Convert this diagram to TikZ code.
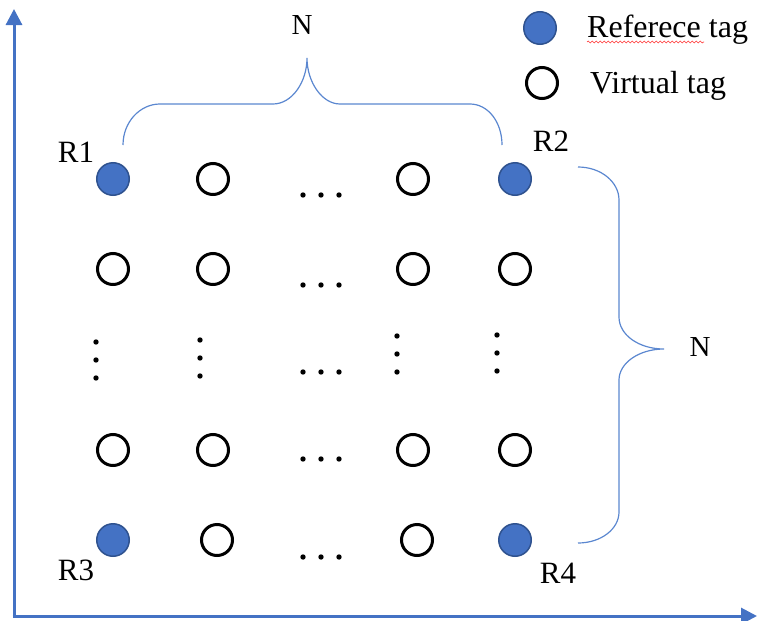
\documentclass[tikz,border=0pt]{standalone}
\usepackage{fontspec}
\setmainfont{Liberation Serif}
\usetikzlibrary{arrows.meta,decorations.pathmorphing}
\definecolor{axisblue}{HTML}{4472C4}
\definecolor{refborder}{HTML}{2F528F}
\definecolor{bracecol}{HTML}{5B87D0}
\begin{document}
\begin{tikzpicture}[x=1pt,y=-1pt,
  reftag/.style={circle,draw=refborder,line width=1.5pt,fill=axisblue,
    minimum size=32.5pt,inner sep=0pt},
  virttag/.style={circle,draw=black,line width=3pt,minimum size=31pt,inner sep=0pt},
  lbl/.style={inner sep=0pt,font=\fontsize{31}{36}\selectfont},
  nlbl/.style={inner sep=0pt,font=\fontsize{29}{34}\selectfont},
  legendtxt/.style={inner sep=0pt,anchor=base west,font=\fontsize{32}{37}\selectfont},
  axis/.style={draw=axisblue,line width=3pt,-{Triangle[length=16pt,width=16pt]}},
  brace/.style={draw=bracecol,line width=1.2pt},
  dot/.style={fill=black}]
\useasboundingbox (0,0) rectangle (758,621);

% axes
\coordinate (origin) at (14,616);
\coordinate (ytip) at (14,9);
\coordinate (xtip) at (757,616);
\draw[axis] ([yshift=1.5pt]origin) -- (ytip);
\draw[axis] ([xshift=-1.5pt]origin) -- (xtip);

% grid of tags
\node[reftag]  (c11) at (113,179) {};
\node[virttag] (c12) at (213,179) {};
\node[virttag] (c14) at (413,179) {};
\node[reftag]  (c15) at (515,179) {};

\node[virttag] (c21) at (113,269) {};
\node[virttag] (c22) at (213,269) {};
\node[virttag] (c24) at (413,269) {};
\node[virttag] (c25) at (515,269) {};

\node[virttag] (c41) at (113,450) {};
\node[virttag] (c42) at (213,450) {};
\node[virttag] (c44) at (413,450) {};
\node[virttag] (c45) at (515,450) {};

\node[reftag]  (c51) at (113,540) {};
\node[virttag] (c52) at (217,540) {};
\node[virttag] (c54) at (417,540) {};
\node[reftag]  (c55) at (515,540) {};

% horizontal ellipses
\foreach \y in {195,285,372,459,557}
  \foreach \x in {303,321,339}
    \fill[dot] (\x,\y) circle (2.7);

% vertical ellipses
\foreach \x/\y in {96/342,200/340,397/336,497/335}
  \foreach \d in {0,18,36}
    \fill[dot] (\x,\y+\d) circle (2.7);

% corner labels
\node[lbl] (r1) at (76,152) {R1};
\node[lbl] (r2) at (551,141) {R2};
\node[lbl] (r3) at (76,570) {R3};
\node[lbl] (r4) at (558,573) {R4};

% top brace
\draw[brace] (123,145) .. controls (123,122) and (140,104) .. (160,104)
  -- (273,104) .. controls (292,104) and (307,82) .. (307,58)
  .. controls (307,82) and (322,104) .. (340,104)
  -- (470,104) .. controls (488,104) and (502,122) .. (502,145);
\node[nlbl] (ntop) at (302,25) {N};

% right brace
\draw[brace] (578,167) .. controls (601,167) and (619,182) .. (619,200)
  -- (619,317) .. controls (619,335) and (639,349) .. (664,349)
  .. controls (639,349) and (619,363) .. (619,380)
  -- (619,512) .. controls (619,529) and (601,543) .. (578,543);
\node[nlbl] (nright) at (700,347) {N};

% legend
\node[reftag]  (legref) at (540,28) {};
\node[virttag] (legvirt) at (542,83) {};
\node[legendtxt] (legreftxt) at (587,37) {Referece tag};
\node[legendtxt] (legvirttxt) at (590,93) {Virtual tag};
\draw[red!80,line width=0.6pt,decorate,
  decoration={snake,amplitude=0.9pt,segment length=4pt}]
  (587,42) -- (704,42);
\end{tikzpicture}
\end{document}
